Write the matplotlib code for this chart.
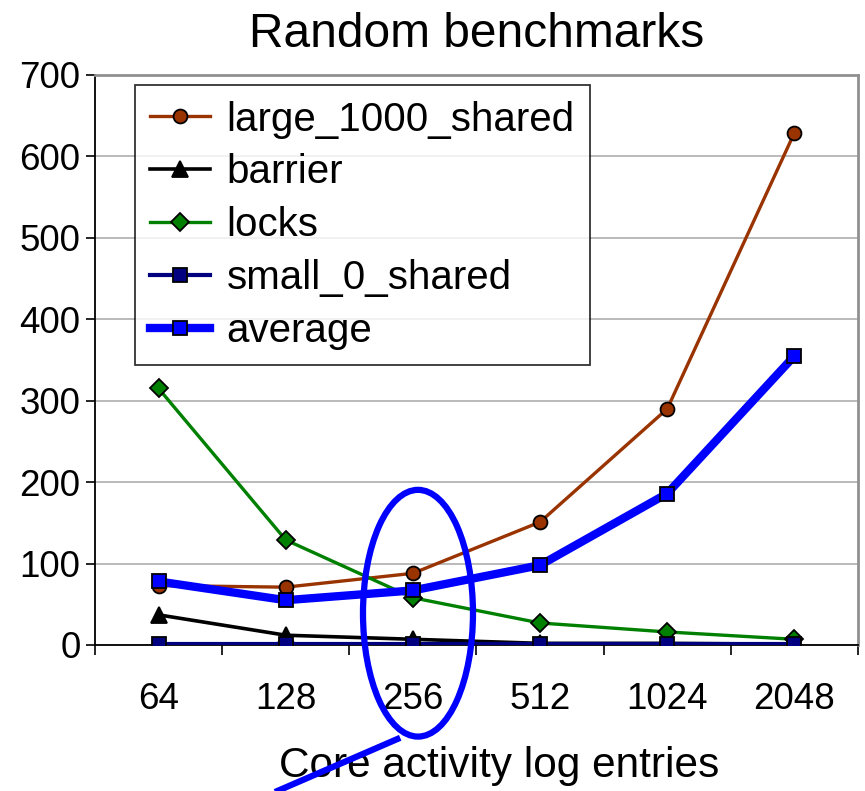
# coding=utf-8
import matplotlib
matplotlib.use('Agg')
import matplotlib.pyplot as plt
from matplotlib.patches import Ellipse
from matplotlib.ticker import FixedLocator

plt.rcParams['font.family'] = ['Liberation Sans', 'DejaVu Sans']

# 日志条目数
entries = ['64', '128', '256', '512', '1024', '2048']

large_1000_shared = [73, 71, 88, 151, 290, 629]
barrier = [37, 12, 7, 2, 2, 1]
locks = [315, 129, 58, 27, 16, 7]
small_0_shared = [1, 1, 1, 1, 1, 1]
average = [78, 55, 67, 98, 186, 355]

# 圈出256那一列的标注
mark_center = (2.04, 39)
mark_size = (0.865, 303)
mark_tail = ([1.90, 0.85], [-114, -185])

fig = plt.figure(figsize=(8.65, 7.91), dpi=100)
ax = fig.add_axes([0.1098, 0.1846, 0.8821, 0.7206])
x = list(range(len(entries)))

ax.plot(x, large_1000_shared, color='#993300', lw=2.4, marker='o', ms=10,
        mec='black', mew=1.3, label='large_1000_shared', zorder=3)
ax.plot(x, barrier, color='black', lw=2.6, marker='^', ms=11,
        mec='black', mew=1.3, label='barrier', zorder=3)
ax.plot(x, locks, color='#008000', lw=2.4, marker='D', ms=9,
        mec='black', mew=1.3, label='locks', zorder=3)
ax.plot(x, small_0_shared, color='#000080', lw=3, marker='s', ms=10,
        mec='black', mew=1.3, label='small_0_shared', zorder=3)
ax.plot(x, average, color='#0000ff', lw=6, marker='s', ms=10,
        mec='black', mew=1.3, label='average', zorder=4)

ax.set_xlim(-0.5, 5.5)
ax.set_ylim(0, 700)
ax.set_yticks(range(0, 701, 100))
ax.set_xticks(x)
ax.set_xticklabels(entries)
ax.xaxis.set_minor_locator(FixedLocator([i - 0.5 for i in range(7)]))
ax.tick_params(axis='x', which='major', length=0, pad=27, labelsize=26.5)
ax.tick_params(axis='x', which='minor', length=7, width=1.2, direction='out')
ax.tick_params(axis='y', length=6.5, width=1.2, pad=4, labelsize=26.5)

ax.grid(axis='y', color='#b4b4b4', lw=1.3, zorder=0)
ax.set_axisbelow(True)
for side in ['left', 'bottom']:
    ax.spines[side].set_color('black')
    ax.spines[side].set_linewidth(1.3)
for side in ['top', 'right']:
    ax.spines[side].set_color('#909090')
    ax.spines[side].set_linewidth(2)

ax.set_title('Random benchmarks', fontsize=34.5, pad=20)
ax.set_xlabel('Core activity log entries', fontsize=30.5)
ax.xaxis.set_label_coords(0.53, -0.178)

leg = ax.legend(loc='upper left', bbox_to_anchor=(0.052, 0.982), fontsize=29,
                handlelength=1.5, handletextpad=0.4, labelspacing=0.37,
                borderpad=0.38, borderaxespad=0, fancybox=False, frameon=True)
leg.get_frame().set_edgecolor('black')
leg.get_frame().set_linewidth(1.3)

ax.add_patch(Ellipse(mark_center, mark_size[0], mark_size[1], fill=False,
                     ec='#0000ff', lw=4.5, clip_on=False, zorder=5))
ax.plot(mark_tail[0], mark_tail[1], color='#0000ff', lw=4.5, clip_on=False,
        zorder=5, solid_capstyle='butt')

fig.savefig('out.png', dpi=100)
